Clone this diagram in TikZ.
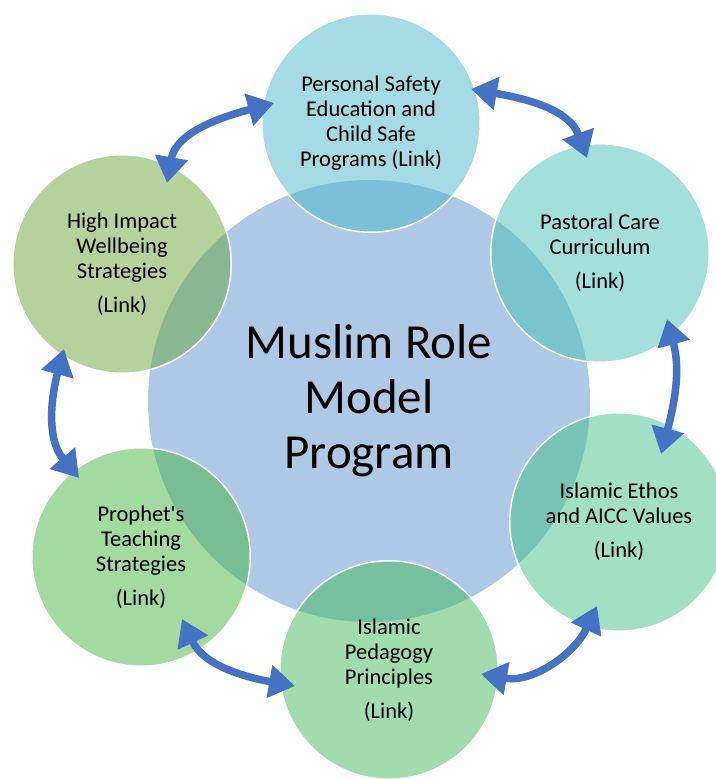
\documentclass[tikz,border=0pt]{standalone}
\usepackage{fontspec}
\setmainfont{Carlito}
\usetikzlibrary{arrows.meta}
\definecolor{centerfill}{RGB}{173,201,230}
\definecolor{ctop}{RGB}{75,183,203}
\definecolor{cleft}{RGB}{105,167,57}
\definecolor{cright}{RGB}{73,193,181}
\definecolor{cethos}{RGB}{67,193,137}
\definecolor{cped}{RGB}{65,185,89}
\definecolor{cproph}{RGB}{71,181,65}
\definecolor{arrowblue}{RGB}{68,114,196}
\tikzset{
  outer/.style={circle, draw=white, line width=1.5pt, minimum size=218.5pt, inner sep=0pt,
    fill opacity=0.5, text opacity=1, align=center, font=\fontsize{22.5}{25}\selectfont, text=black},
  centre/.style={circle, fill=centerfill, minimum size=442pt, inner sep=0pt, align=center,
    font=\fontsize{49}{55}\selectfont, text=black},
  link/.style={line width=7.5pt, draw=arrowblue, {Triangle[width=32pt,length=26pt]}-{Triangle[width=32pt,length=26pt]}}
}
\begin{document}
\begin{tikzpicture}[x=1pt,y=1pt]
\useasboundingbox (0,0) rectangle (715,-779);
\node[centre] (c) at (369,-401) {Muslim Role\\Model\\Program};
\node[outer, fill=ctop] (top) at (371,-123) {Personal Safety\\Education and\\Child Safe\\Programs (Link)};
\node[outer, fill=cright] (tr) at (600,-253) {Pastoral Care\\Curriculum\\[9pt](Link)};
\node[outer, fill=cethos] (br) at (619,-522) {Islamic Ethos\\and AICC Values\\[9pt](Link)};
\node[outer, fill=cped] (bot) at (389,-670) {Islamic\\Pedagogy\\Principles\\[9pt](Link)};
\node[outer, fill=cproph] (bl) at (141,-557) {Prophet\textquotesingle s\\Teaching\\Strategies\\[9pt](Link)};
\node[outer, fill=cleft] (tl) at (122,-264) {High Impact\\Wellbeing\\Strategies\\[9pt](Link)};
\coordinate (a1) at (167,-183);
\coordinate (b1) at (274,-103);
\coordinate (a2) at (471,-89);
\coordinate (b2) at (587,-158);
\coordinate (a3) at (667,-319);
\coordinate (b3) at (661,-454);
\coordinate (a4) at (597,-606);
\coordinate (b4) at (481,-674);
\coordinate (a5) at (295,-686);
\coordinate (b5) at (182,-619);
\coordinate (a6) at (64,-349);
\coordinate (b6) at (79,-478);
\draw[link] (a1) to[out=80,in=195] (b1);
\draw[link] (a2) to[out=-10,in=110] (b2);
\draw[link] (a3) to[out=-75,in=75] (b3);
\draw[link] (a4) to[out=-115,in=-10] (b4);
\draw[link] (a5) to[out=170,in=-65] (b5);
\draw[link] (a6) to[out=-105,in=130] (b6);
\end{tikzpicture}
\end{document}
